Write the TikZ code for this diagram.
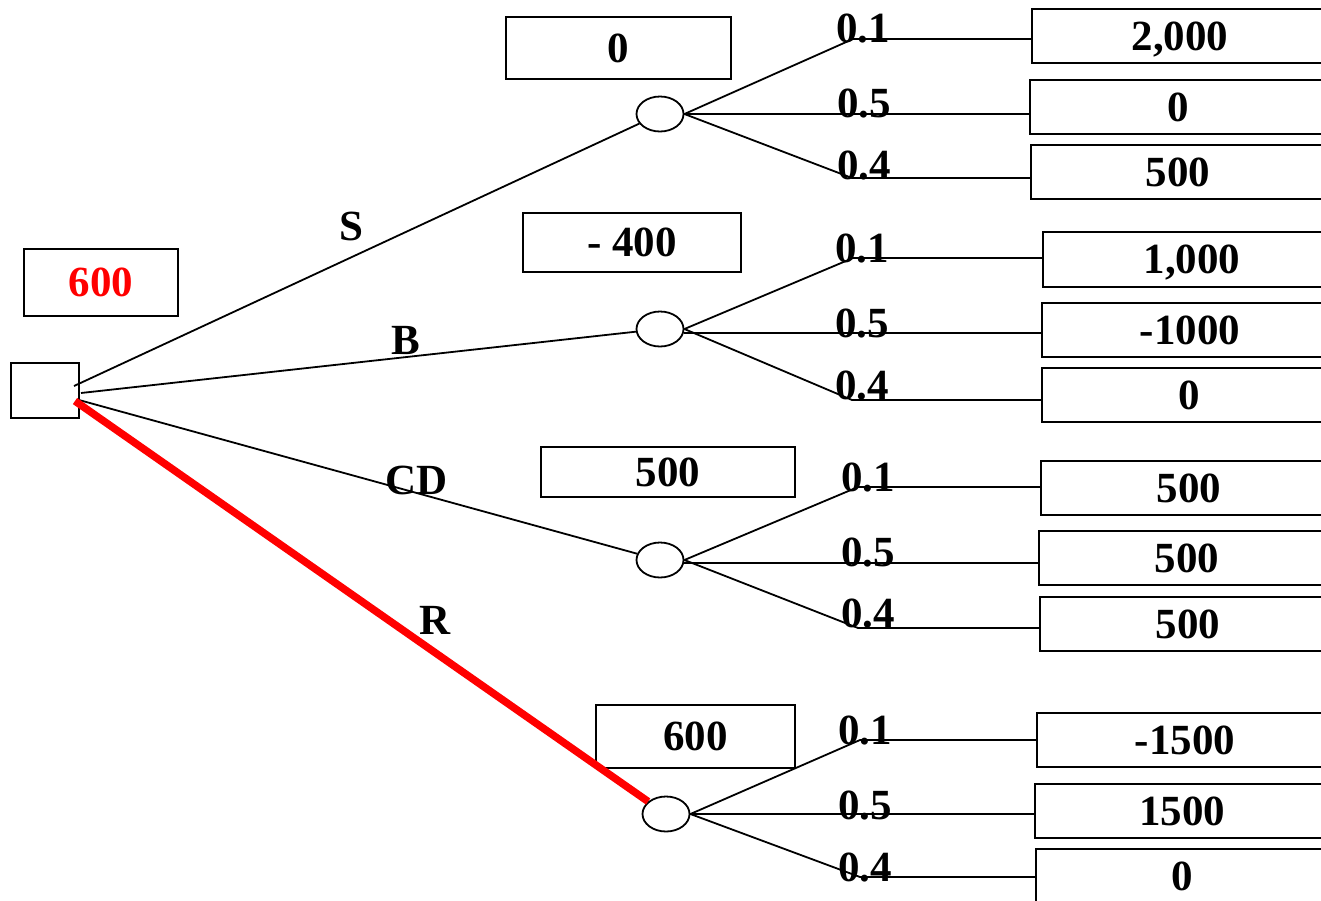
\documentclass[tikz,border=0pt]{standalone}
\usepackage{fontspec}
\setmainfont{Liberation Serif}
\usetikzlibrary{shapes.geometric}
\begin{document}
\begin{tikzpicture}[x=1pt,y=-1pt,
 lbl/.style={font=\fontsize{43}{48}\selectfont\bfseries, inner sep=0pt, text depth=0pt},
 box/.style={draw, line width=2.2pt, rectangle, inner sep=0pt, text depth=0pt, font=\fontsize{43}{48}\selectfont\bfseries},
 chance/.style={draw, ellipse, line width=1.8pt, minimum width=47pt, minimum height=35pt, inner sep=0pt},
 br/.style={line width=1.8pt},
 best/.style={line width=7.5pt, red},
]
\useasboundingbox (0,0) rectangle (1321,900);
\clip (0,0) rectangle (1321,900);

% decision node and its value
\node[box, minimum width=68pt, minimum height=55pt] (dec) at (45,390.5) {};
\node[box, minimum width=154pt, minimum height=67pt, text=red] (top) at (101,282.5) {600};

% chance nodes
\node[chance] (c1) at (660,114) {};
\node[chance] (c2) at (660,329) {};
\node[chance] (c3) at (660,560) {};
\node[chance] (c4) at (666,814) {};

% chance values
\node[box, minimum width=225pt, minimum height=62pt] (v1) at (618.5,48) {0};
\node[box, minimum width=218pt, minimum height=59pt] (v2) at (632,242.5) {- 400};
\node[box, minimum width=254pt, minimum height=50pt] (v3) at (668,472) {500};
\node[box, minimum width=199pt, minimum height=63pt] (v4) at (695.5,736.5) {600};

% payoff boxes
\node[box, minimum width=296pt, minimum height=54pt] (r1) at (1180,36) {2,000};
\node[box, minimum width=296pt, minimum height=54pt] (r2) at (1178,107) {0};
\node[box, minimum width=294pt, minimum height=54pt] (r3) at (1178,172) {500};
\node[box, minimum width=298pt, minimum height=55pt] (r4) at (1192,259.5) {1,000};
\node[box, minimum width=296pt, minimum height=54pt] (r5) at (1190,330) {-1000};
\node[box, minimum width=294pt, minimum height=54pt] (r6) at (1189,395) {0};
\node[box, minimum width=296pt, minimum height=54pt] (r7) at (1189,488) {500};
\node[box, minimum width=296pt, minimum height=54pt] (r8) at (1187,558) {500};
\node[box, minimum width=296pt, minimum height=54pt] (r9) at (1188,624) {500};
\node[box, minimum width=296pt, minimum height=54pt] (r10) at (1185,740) {-1500};
\node[box, minimum width=294pt, minimum height=54pt] (r11) at (1182,811) {1500};
\node[box, minimum width=292pt, minimum height=54pt] (r12) at (1182,876) {0};

% start points on the decision node
\coordinate (sS) at (74,386);
\coordinate (sB) at (81,393);
\coordinate (sC) at (79,400);
\coordinate (sR) at (75,401);

% decision branches
\draw[br] (sS) -- (c1);
\draw[br] (sB) -- (c2);
\draw[br] (sC) -- (c3);
\draw[best] (sR) -- (c4);

\node[lbl] (lS) at (351,226) {S};
\node[lbl] (lB) at (406,340) {B};
\node[lbl] (lC) at (417,480) {CD};
\node[lbl] (lR) at (435,620) {R};

% bend points
\coordinate (k11) at (853,39);
\coordinate (k13) at (852,178);
\coordinate (k21) at (853,258);
\coordinate (k23) at (852,400);
\coordinate (k31) at (858,487);
\coordinate (k33) at (858,628);
\coordinate (k41) at (860,740);
\coordinate (k43) at (860,877);

% chance branches
\draw[br] (c1.east) -- (k11) -- (k11 -| r1.west);
\draw[br] (c1.east) -- (c1.east -| r2.west);
\draw[br] (c1.east) -- (k13) -- (k13 -| r3.west);
\draw[br] (c2.east) -- (k21) -- (k21 -| r4.west);
\draw[br] (c2.east) ++(0,4) coordinate (m2) (m2) -- (m2 -| r5.west);
\draw[br] (c2.east) -- (k23) -- (k23 -| r6.west);
\draw[br] (c3.east) -- (k31) -- (k31 -| r7.west);
\draw[br] (c3.east) ++(0,3) coordinate (m3) (m3) -- (m3 -| r8.west);
\draw[br] (c3.east) -- (k33) -- (k33 -| r9.west);
\draw[br] (c4.east) -- (k41) -- (k41 -| r10.west);
\draw[br] (c4.east) -- (c4.east -| r11.west);
\draw[br] (c4.east) -- (k43) -- (k43 -| r12.west);

% probabilities
\node[lbl] (p11) at (863,28) {0.1};
\node[lbl] (p12) at (864,103) {0.5};
\node[lbl] (p13) at (864,165) {0.4};
\node[lbl] (p21) at (862,248) {0.1};
\node[lbl] (p22) at (862,323) {0.5};
\node[lbl] (p23) at (862,385) {0.4};
\node[lbl] (p31) at (868,477) {0.1};
\node[lbl] (p32) at (868,552) {0.5};
\node[lbl] (p33) at (868,613) {0.4};
\node[lbl] (p41) at (865,730) {0.1};
\node[lbl] (p42) at (865,805) {0.5};
\node[lbl] (p43) at (865,867) {0.4};
\end{tikzpicture}
\end{document}
